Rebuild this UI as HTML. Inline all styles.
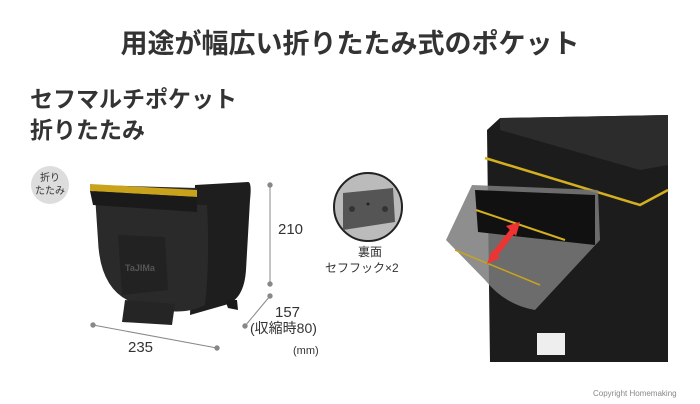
<!DOCTYPE html>
<html><head><meta charset="utf-8"><style>
body{margin:0;width:700px;height:404px;background:#fff;position:relative;overflow:hidden;font-family:"Liberation Sans","Noto Sans CJK JP",sans-serif;color:#333}
.t{position:absolute;white-space:nowrap}
</style></head><body>
<div class="t" style="left:0;width:700px;text-align:center;top:22px;font-size:27px;font-weight:bold;color:#333">用途が幅広い折りたたみ式のポケット</div>
<div class="t" style="left:30px;top:84px;font-size:23px;font-weight:bold;line-height:31px">セフマルチポケット<br>折りたたみ</div>
<svg width="700" height="404" style="position:absolute;left:0;top:0">
<circle cx="50" cy="185" r="19" fill="#ddd"/>
<text x="50" y="181" font-size="10" text-anchor="middle" fill="#333" font-family="Noto Sans CJK JP">折り</text>
<text x="50" y="194" font-size="10" text-anchor="middle" fill="#333" font-family="Noto Sans CJK JP">たたみ</text>
<!-- pocket -->
<path d="M195 185 L248 182 Q252 182 250 200 L246 270 Q244 300 225 305 L190 315 Z" fill="#1e1e1e"/>
<path d="M92 185 L197 188 L196 205 L207 205 Q210 260 205 305 Q180 318 140 305 Q100 295 98 240 L95 195 Z" fill="#2a2a2a"/>
<path d="M90 184 L197 190 L197 197 L90 191 Z" fill="#c9a31c"/>
<path d="M90 191 L197 197 L197 212 L93 205 Z" fill="#1a1a1a"/>
<path d="M118 235 L165 237 L168 290 L122 295 Z" fill="#222"/>
<text x="125" y="271" font-size="9" fill="#555" font-weight="bold">TaJIMa</text>
<path d="M125 300 L175 304 L172 325 L122 322 Z" fill="#252525"/>
<path d="M225 300 L237 300 L238 310 L228 308 Z" fill="#1a1a1a"/>
<!-- dims -->
<g stroke="#888" stroke-width="1" fill="#888">
<line x1="270" y1="185" x2="270" y2="284"/><circle cx="270" cy="185" r="2.2"/><circle cx="270" cy="284" r="2.2"/>
<line x1="270" y1="296" x2="245" y2="326"/><circle cx="270" cy="296" r="2.2"/><circle cx="245" cy="326" r="2.2"/>
<line x1="93" y1="325" x2="217" y2="348"/><circle cx="93" cy="325" r="2.2"/><circle cx="217" cy="348" r="2.2"/>
</g>
<!-- inset circle -->
<circle cx="368" cy="207" r="34" fill="#bbb" stroke="#222" stroke-width="2"/>
<path d="M343 193 L393 188 L395 222 L343 230 Z" fill="#555"/>
<circle cx="352" cy="209" r="3" fill="#333"/><circle cx="385" cy="209" r="3" fill="#333"/><circle cx="368" cy="204" r="1.5" fill="#222"/>
<!-- box -->
<path d="M487 130 L500 118 L668 115 L668 362 L490 362 Z" fill="#1c1c1c"/>
<path d="M500 118 L668 115 L668 165 L640 170 L500 130 Z" fill="#2c2c2c"/>
<path d="M485 158 L640 205 L668 190" stroke="#d4b020" stroke-width="2.5" fill="none"/>
<path d="M472 185 L598 190 L600 240 L535 310 Q505 305 485 280 L446 240 Z" fill="#7a7a7a" opacity="0.85"/>
<path d="M475 190 L595 195 L595 245 L478 232 Z" fill="#111"/>
<path d="M476 210 L565 240" stroke="#d4b020" stroke-width="2"/>
<path d="M455 250 L540 285" stroke="#c9a31c" stroke-width="1.5"/>
<path d="M492 258 L515 228" stroke="#e33" stroke-width="6"/>
<polygon points="520,222 506,226 516,236" fill="#e33"/><polygon points="487,264 492,250 500,258" fill="#e33"/>
<rect x="537" y="333" width="28" height="22" fill="#eee"/>
</svg>
<div class="t" style="left:278px;top:221px;font-size:15px">210</div>
<div class="t" style="left:275px;top:304px;font-size:15px">157</div>
<div class="t" style="left:250px;top:318px;font-size:14px">(収縮時80)</div>
<div class="t" style="left:128px;top:339px;font-size:15px">235</div>
<div class="t" style="left:293px;top:345px;font-size:11px">(mm)</div>
<div class="t" style="left:340px;top:245px;font-size:12px;text-align:center;line-height:14px;width:60px;margin-left:-0px">裏面</div>
<div class="t" style="left:325px;top:259px;font-size:12px">セフフック×2</div>
<div class="t" style="left:593px;top:389px;font-size:8px;color:#888">Copyright Homemaking</div>
</body></html>
